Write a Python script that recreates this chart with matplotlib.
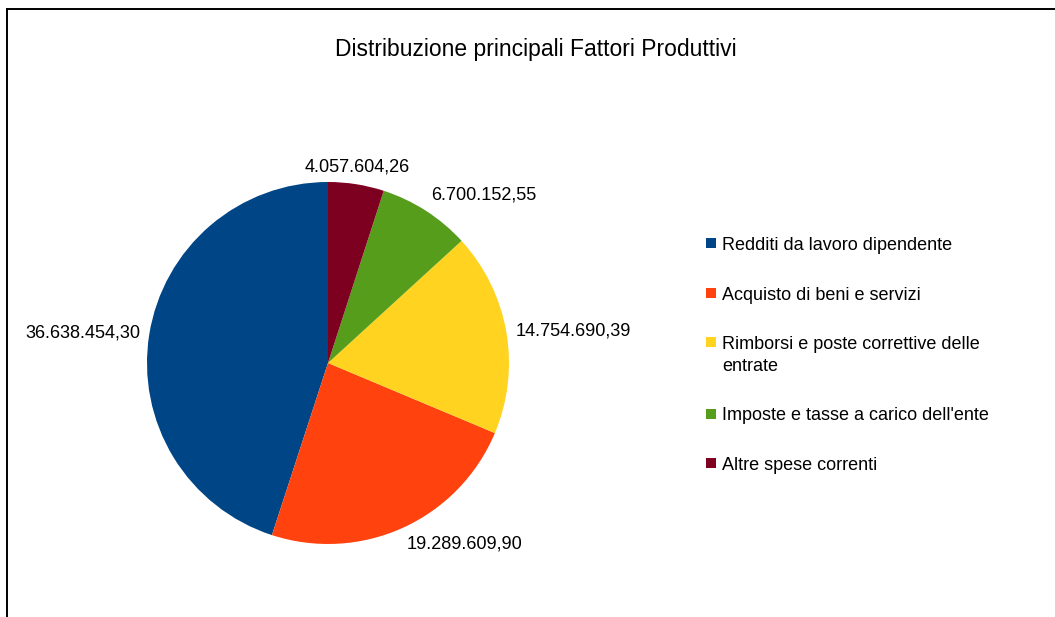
import numpy as np
import matplotlib
matplotlib.use('Agg')
import matplotlib.pyplot as plt
from matplotlib.patches import Rectangle
from matplotlib.lines import Line2D

plt.rcParams['font.family'] = ['Liberation Sans', 'DejaVu Sans']

title = 'Distribuzione principali Fattori Produttivi'
categories = ['Redditi da lavoro dipendente',
              'Acquisto di beni e servizi',
              'Rimborsi e poste correttive delle\nentrate',
              "Imposte e tasse a carico dell'ente",
              'Altre spese correnti']
values = [36638454.30, 19289609.90, 14754690.39, 6700152.55, 4057604.26]
colors = ['#004586', '#ff420e', '#ffd320', '#579d1c', '#7e0021']


def fmt_it(v):
    # italian style: 1.234.567,89
    s = '{:,.2f}'.format(v)
    return s.replace(',', 'X').replace('.', ',').replace('X', '.')


W, H = 1055, 617
fig = plt.figure(figsize=(W / 100, H / 100), dpi=100)

# pie axes: centre (328, 363) px, radius 181 px
cx, cy, r = 328, 363, 181
ax = fig.add_axes([(cx - r) / W, (H - cy - r) / H, 2 * r / W, 2 * r / H])
wedges, _ = ax.pie(values, colors=colors, startangle=90, counterclock=True,
                   radius=1, wedgeprops=dict(linewidth=0))
ax.set_xlim(-1, 1)
ax.set_ylim(-1, 1)
ax.set_aspect('equal')
ax.axis('off')

# value labels placed just outside each slice
for w, v in zip(wedges, values):
    ang = np.deg2rad((w.theta1 + w.theta2) / 2)
    c, s = np.cos(ang), np.sin(ang)
    rr = 1.05
    if abs(c) < 0.3:
        ha = 'center'
    elif c > 0:
        ha = 'left'
    else:
        ha = 'right'
    if abs(s) < 0.3:
        va = 'center'
    elif s > 0:
        va = 'bottom'
    else:
        va = 'top'
    ax.text(rr * c, rr * s, fmt_it(v), ha=ha, va=va, fontsize=13.1,
            clip_on=False)

fig.text(536 / W, 1 - 56 / H, title, ha='center', va='baseline',
         fontsize=16.5)

# legend drawn by hand so the swatch sits on the first text line
base = 250.0     # baseline of first entry, px from top
step = 49.5      # distance between entries
line_h = 22.0    # extra line inside an entry
for col, lab in zip(colors, categories):
    mid = base - 7
    fig.add_artist(Rectangle((706 / W, 1 - (mid + 5) / H), 10 / W, 10 / H,
                             facecolor=col, edgecolor='none',
                             transform=fig.transFigure))
    lines = lab.split('\n')
    for i, ln in enumerate(lines):
        fig.text(722 / W, 1 - (base + i * line_h) / H, ln, ha='left',
                 va='baseline', fontsize=12.95)
    base += step + (len(lines) - 1) * line_h

# border on left and top
fig.add_artist(Line2D([7 / W, 7 / W], [0, 1 - 9 / H], color='black',
                      linewidth=1.4, transform=fig.transFigure))
fig.add_artist(Line2D([7 / W, 1], [1 - 9 / H, 1 - 9 / H], color='black',
                      linewidth=1.4, transform=fig.transFigure))

fig.savefig('out.png', dpi=100)
